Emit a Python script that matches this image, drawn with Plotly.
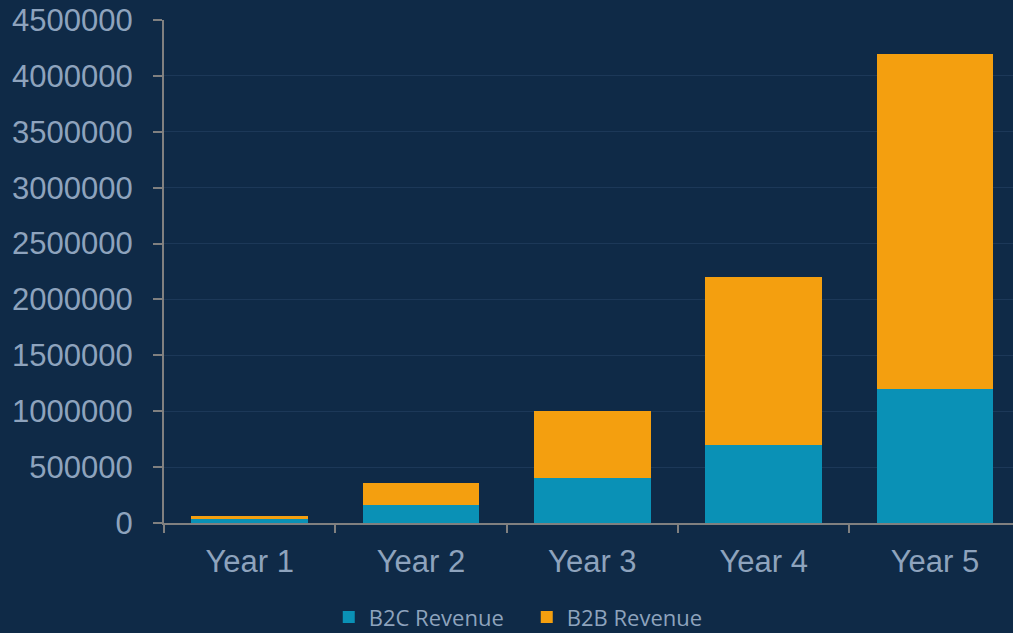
import plotly.graph_objects as go

categories = ["Year 1", "Year 2", "Year 3", "Year 4", "Year 5"]
b2c_revenue = [38000, 160000, 400000, 700000, 1200000]
b2b_revenue = [22000, 200000, 600000, 1500000, 3000000]
y_ticks = [0, 500000, 1000000, 1500000, 2000000, 2500000, 3000000, 3500000, 4000000, 4500000]

BG = "#0f2a47"
TXT = "#8ea3bd"

fig = go.Figure()
fig.add_trace(go.Bar(x=categories, y=b2c_revenue, name="B2C Revenue",
                     marker=dict(color="#0a91b6", line=dict(width=0)), width=0.68))
fig.add_trace(go.Bar(x=categories, y=b2b_revenue, name="B2B Revenue",
                     marker=dict(color="#f49f0f", line=dict(width=0)), width=0.68))

fig.update_layout(
    barmode="stack",
    width=1013, height=633,
    paper_bgcolor=BG, plot_bgcolor=BG,
    margin=dict(l=164, r=0, t=20, b=110),
    font=dict(family="Liberation Sans, Arial", color=TXT, size=31),
    showlegend=True,
    legend=dict(orientation="h", xref="container", yref="container",
                x=0.52, xanchor="center", y=0.025, yanchor="middle",
                font=dict(family="Open Sans", size=22, color=TXT),
                itemwidth=30, entrywidth=153, tracegroupgap=0, traceorder="normal",
                bgcolor="rgba(0,0,0,0)"),
    xaxis=dict(range=[-0.5, 4.455], showline=True, linecolor="#808080", linewidth=2,
               ticks="outside", tickson="boundaries", ticklen=8, tickwidth=2,
               tickcolor="#808080", showgrid=False, ticklabelstandoff=10,
               tickfont=dict(size=31, color=TXT, family="Liberation Sans, Arial")),
    yaxis=dict(range=[0, 4500000], tickvals=y_ticks, ticktext=[str(v) for v in y_ticks],
               showline=True, linecolor="#808080", linewidth=2,
               ticks="outside", ticklen=9, tickwidth=2, tickcolor="#808080",
               showgrid=True, gridcolor="#1c3858", gridwidth=1, zeroline=False,
               ticklabelstandoff=14,
               tickfont=dict(size=31, color=TXT, family="Liberation Sans, Arial")),
)

fig.write_html("out.html", config={"displayModeBar": False},
               post_script="document.body.style.margin='0';document.body.style.background='#0f2a47';")
